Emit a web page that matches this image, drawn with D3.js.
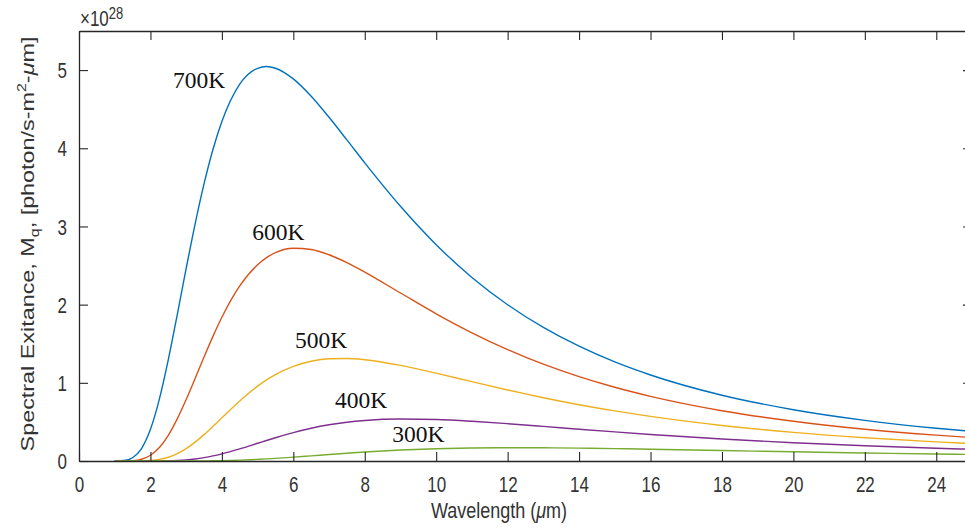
<!DOCTYPE html>
<html><head><meta charset="utf-8">
<script src="https://cdn.jsdelivr.net/npm/d3@7"></script>
<style>body{margin:0;background:#fff;} svg{display:block;}</style>
</head><body>
<svg id="chart" width="965" height="531"></svg>
<script>
// Wavelength grid (μm)
const wavelength = [1, 1.25, 1.5, 1.75, 2, 2.25, 2.5, 2.75, 3, 3.25, 3.5, 3.75, 4, 4.5, 5, 5.25, 5.5, 6, 6.5, 7, 7.5, 8, 9, 10, 11, 12, 13, 14, 15, 16, 18, 20, 22, 24, 25];
// Spectral photon exitance in units of 1e28 photon/s-m^2-μm
const m700 = [0.0002, 0.0056, 0.0416, 0.159, 0.405, 0.792, 1.296, 1.870, 2.463, 3.031, 3.544, 3.984, 4.342, 4.820, 5.023, 5.045, 5.024, 4.887, 4.665, 4.396, 4.107, 3.814, 3.258, 2.766, 2.348, 1.999, 1.709, 1.468, 1.267, 1.100, 0.841, 0.656, 0.520, 0.419, 0.378];
const m600 = [0, 0.0004, 0.0042, 0.0225, 0.0731, 0.173, 0.329, 0.538, 0.786, 1.055, 1.329, 1.594, 1.838, 2.239, 2.511, 2.602, 2.665, 2.721, 2.705, 2.638, 2.537, 2.416, 2.149, 1.883, 1.640, 1.425, 1.238, 1.079, 0.943, 0.827, 0.643, 0.508, 0.407, 0.331, 0.300];
const m500 = [0, 0, 0.0002, 0.0015, 0.0066, 0.0205, 0.0484, 0.0940, 0.1588, 0.2411, 0.3375, 0.4431, 0.5531, 0.7686, 0.9573, 1.0370, 1.1057, 1.2110, 1.2762, 1.3076, 1.3120, 1.2959, 1.2235, 1.1232, 1.0146, 0.9083, 0.8095, 0.7201, 0.6404, 0.5702, 0.4547, 0.3661, 0.2980, 0.2451, 0.2231];
const m400 = [0, 0, 0, 0, 0.0002, 0.0008, 0.0027, 0.0069, 0.0144, 0.0263, 0.0432, 0.0650, 0.0915, 0.1552, 0.2265, 0.2626, 0.2978, 0.3630, 0.4185, 0.4629, 0.4960, 0.5186, 0.5375, 0.5308, 0.5083, 0.4772, 0.4424, 0.4067, 0.3721, 0.3394, 0.2814, 0.2336, 0.1947, 0.1633, 0.1500];
const m300 = [0, 0, 0, 0, 0, 0, 0, 0.0001, 0.0003, 0.0007, 0.0014, 0.0027, 0.0046, 0.0108, 0.0206, 0.0267, 0.0336, 0.0491, 0.0659, 0.0831, 0.0996, 0.1149, 0.1399, 0.1569, 0.1665, 0.1701, 0.1691, 0.1649, 0.1586, 0.1510, 0.1343, 0.1177, 0.1025, 0.0890, 0.0830];

const seriesNames = ["700K", "600K", "500K", "400K", "300K"];
const seriesColors = ["#0072BD", "#D95319", "#EDB120", "#7E2F8E", "#77AC30"];
// label anchor positions in data coordinates (x μm, y 1e28)
const labelX = [2.63, 4.85, 6.05, 7.17, 8.77];
const labelY = [4.77, 2.825, 1.445, 0.678, 0.243];

const xTicks = [0, 2, 4, 6, 8, 10, 12, 14, 16, 18, 20, 22, 24];
const yTicks = [0, 1, 2, 3, 4, 5];

const allSeries = [m700, m600, m500, m400, m300];

const svg = d3.select("#chart");
const L = 79, R = 972, T = 31, B = 461;
const x = d3.scaleLinear().domain([0, 25]).range([L, R]);
const y = d3.scaleLinear().domain([0, 5.5]).range([B, T]);
const axisColor = "#262626";
const textColor = "#333";
const tickLen = 9;
const vs = 1.25; // vertical stretch of text seen in the reference
const sans = "'Liberation Sans', Arial, sans-serif";

svg.append("defs").append("clipPath").attr("id", "clip")
  .append("rect").attr("x", L).attr("y", T).attr("width", R - L).attr("height", B - T);

// curves
const line = d3.line().x((d, i) => x(wavelength[i])).y(d => y(d)).curve(d3.curveMonotoneX);
const g = svg.append("g").attr("clip-path", "url(#clip)");
allSeries.forEach((s, k) => {
  g.append("path").datum(s).attr("d", line)
    .attr("fill", "none").attr("stroke", seriesColors[k]).attr("stroke-width", 1.4);
});

// axes (box with inward ticks)
const xb = svg.append("g").attr("transform", `translate(0,${B})`)
  .call(d3.axisBottom(x).tickValues(xTicks).tickSizeInner(-tickLen).tickSizeOuter(0).tickFormat(d3.format("d")));
const xt = svg.append("g").attr("transform", `translate(0,${T})`)
  .call(d3.axisTop(x).tickValues(xTicks).tickSizeInner(-tickLen).tickSizeOuter(0).tickFormat(""));
const yl = svg.append("g").attr("transform", `translate(${L},0)`)
  .call(d3.axisLeft(y).tickValues(yTicks).tickSizeInner(-tickLen).tickSizeOuter(0).tickPadding(12).tickFormat(d3.format("d")));
const yr = svg.append("g").attr("transform", `translate(${R},0)`)
  .call(d3.axisRight(y).tickValues(yTicks).tickSizeInner(-tickLen).tickSizeOuter(0).tickFormat(""));
[xb, xt, yl, yr].forEach(a => {
  a.select(".domain").attr("stroke", axisColor).attr("stroke-width", 1.3);
  a.selectAll(".tick line").attr("stroke", axisColor).attr("stroke-width", 1.1);
  a.selectAll(".tick text").attr("fill", textColor).attr("font-family", sans).attr("font-size", 17)
    .attr("transform", `scale(1,${vs})`);
});
xb.selectAll(".tick text").attr("y", 31 / vs).attr("dy", 0);
yl.selectAll(".tick text").attr("dy", "0.36em");

// exponent label
const ex = svg.append("text").attr("transform", `translate(${L + 1},26) scale(1,${vs})`).attr("fill", textColor)
  .attr("font-family", sans).attr("font-size", 17);
ex.append("tspan").text("×10");
ex.append("tspan").attr("dy", -6).attr("font-size", 13).text("28");

// x label
const xlab = svg.append("text").attr("transform", `translate(499,518) scale(1,${vs})`).attr("text-anchor", "middle")
  .attr("fill", textColor).attr("font-family", sans).attr("font-size", 18);
xlab.append("tspan").text("Wavelength (");
xlab.append("tspan").attr("font-style", "italic").text("μ");
xlab.append("tspan").text("m)");

// y label
const ylab = svg.append("text").attr("transform", `translate(34,${(T + B) / 2 - 2}) scale(1,1.23) rotate(-90)`)
  .attr("text-anchor", "middle").attr("fill", textColor).attr("font-family", sans).attr("font-size", 19);
ylab.append("tspan").text("Spectral Exitance, M");
ylab.append("tspan").attr("dy", 5).attr("font-size", 13).text("q");
ylab.append("tspan").attr("dy", -5).text(", [photon/s-m");
ylab.append("tspan").attr("dy", -8).attr("font-size", 13).text("2");
ylab.append("tspan").attr("dy", 8).text("-");
ylab.append("tspan").attr("font-style", "italic").text("μ");
ylab.append("tspan").text("m]");

// curve labels
seriesNames.forEach((n, k) => {
  svg.append("text").attr("x", x(labelX[k])).attr("y", y(labelY[k]))
    .attr("font-family", "'Liberation Serif', 'Times New Roman', serif").attr("font-size", 23.5)
    .attr("fill", "#111").text(n);
});
</script>
</body></html>
